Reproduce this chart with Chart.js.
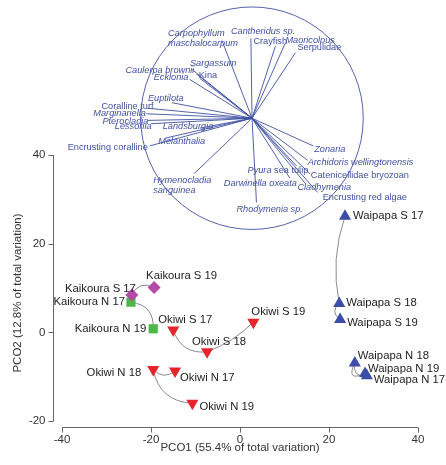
<!DOCTYPE html>
<html>
<head>
<meta charset="utf-8">
<script src="https://cdn.jsdelivr.net/npm/chart.js@4.4.0/dist/chart.umd.min.js"></script>
<style>
html, body { margin: 0; padding: 0; background: #fff; }
</style>
</head>
<body>
<canvas id="chart" width="446" height="465"></canvas>
<script>
// sample scores on the first two PCO axes
const samples = ['Kaikoura S 17', 'Kaikoura S 19', 'Kaikoura N 17', 'Kaikoura N 19',
    'Okiwi S 17', 'Okiwi S 18', 'Okiwi S 19', 'Okiwi N 17', 'Okiwi N 18', 'Okiwi N 19',
    'Waipapa S 17', 'Waipapa S 18', 'Waipapa S 19', 'Waipapa N 17', 'Waipapa N 18', 'Waipapa N 19'];
const pco1 = [-24.3, -19.3, -24.5, -19.5, -15.0, -7.4, 3.0, -14.6, -19.5, -10.7, 23.6, 22.3, 22.5, 28.5, 25.8, 28.1];
const pco2 = [8.4, 10.1, 6.8, 0.8, 0.5, -4.4, 2.3, -8.7, -8.4, -16.0, 26.2, 6.5, 2.9, -9.8, -6.9, -9.3];
const groups = ['Kaikoura S', 'Kaikoura N', 'Okiwi S', 'Okiwi N', 'Waipapa S', 'Waipapa N'];

const xTicks = [-40, -20, 0, 20, 40];
const yTicks = [-20, 0, 20, 40];

// vector overlay (correlations with the two axes)
const vectorNames = ['Carpophyllum\nmaschalocarpum', 'Cantheridus sp.', 'Crayfish', 'Maoricolpus', 'Serpulidae',
    'Sargassum', 'Caulerpa brownii', 'Kina', 'Ecklonia', 'Euptilota', 'Coralline turf', 'Marginariella',
    'Pterocladia', 'Lessonia', 'Landsburgia', 'Melanthalia', 'Encrusting coralline', 'Hymenocladia\nsanguinea',
    'Rhodymenia sp.', 'Zonaria', 'Archidoris wellingtonensis', 'Catenicellidae bryozoan', 'Cladhymenia',
    'Encrusting red algae', 'Pyura sea tulip', 'Darwinella oxeata'];
const vectorX = [-0.27, -0.01, 0.21, 0.30, 0.39, -0.54, -0.50, -0.47, -0.56, -0.72, -0.94, -0.95,
    -0.94, -0.91, -0.47, -0.78, -0.92, -0.52, 0.04, 0.55, 0.50, 0.52, 0.48, 0.59, 0.40, 0.34];
const vectorY = [0.70, 0.72, 0.65, 0.68, 0.59, 0.44, 0.40, 0.36, 0.35, 0.14, 0.09, 0.04,
    -0.02, -0.05, -0.09, -0.18, -0.25, -0.50, -0.76, -0.25, -0.38, -0.50, -0.59, -0.67, -0.43, -0.54];
// 1 italic, 0 upright, 2 first word italic
const vectorItalic = [1, 1, 0, 1, 0, 1, 1, 0, 1, 1, 0, 1, 1, 1, 1, 1, 0, 1, 1, 1, 1, 0, 1, 0, 2, 1];

// styling
const groupColors = ['#b44aa6', '#4cb848', '#e8242b', '#e8242b', '#3d4ca8', '#3d4ca8'];
const groupShapes = ['rectRot', 'rect', 'triangle', 'triangle', 'triangle', 'triangle'];
const groupRotation = [0, 0, 180, 180, 0, 0];
const groupRadius = [6.5, 6.5, 7, 7, 7, 7];
const VEC_COLOR = '#4050a2';
const CIRCLE_CENTER = [2.7, 48.3];
const CIRCLE_R = 25;
// label offsets in px: [dx, dy, align]
const sampleLabelPos = [
    [4, -6, 'right'], [-8, -12, 'left'], [-6, 0, 'right'], [-7, 0, 'right'],
    [-15, -10, 'left'], [-15, -10, 'left'], [-2, -10, 'left'], [5, 7, 'left'], [-12, 3, 'right'], [7, 4, 'left'],
    [8, 0, 'left'], [7, -1, 'left'], [7, 3, 'left'], [7, 4, 'left'], [3, -7, 'left'], [3, -5, 'left']];
const vectorLabelPos = [[-54, -7], [-20, -7], [-22, -5], [0, -2], [2, -5], [-2, -6], [-71, -3], [-1, -3],
    [-36, -2], [-24, -4], [-46, -1.5], [-53, 0], [-45, 1], [-36, 3], [-37, -2], [-7, 3], [-82, 2], [-41, 7],
    [-20, 7], [1, 4], [0, 2], [1, 2], [-8, 4], [5, 5], [-49, 5], [-66, 5]];
// curvature of the gray trajectory segments (px), in drawing order
const trajBend = [6, 8, -8, -3, 5, -10, -6, -5, 6, -10];

const FONT = '"Liberation Sans", Arial, sans-serif';

const datasets = [];
groups.forEach((g, gi) => {
    const pts = [];
    samples.forEach((s, i) => {
        if (s.startsWith(g + ' ')) pts.push({x: pco1[i], y: pco2[i]});
    });
    datasets.push({
        label: g,
        data: pts,
        pointStyle: groupShapes[gi],
        rotation: groupRotation[gi],
        pointRadius: groupRadius[gi],
        backgroundColor: groupColors[gi],
        borderColor: groupColors[gi],
        borderWidth: 0,
        order: 0
    });
});
vectorNames.forEach((name, i) => {
    datasets.push({
        label: name,
        data: [
            {x: CIRCLE_CENTER[0], y: CIRCLE_CENTER[1]},
            {x: CIRCLE_CENTER[0] + CIRCLE_R * vectorX[i], y: CIRCLE_CENTER[1] + CIRCLE_R * vectorY[i]}
        ],
        showLine: true,
        borderColor: VEC_COLOR,
        borderWidth: 0.9,
        pointRadius: 0,
        clip: false,
        order: 1
    });
});

const overlay = {
    id: 'overlay',
    beforeDatasetsDraw(chart) {
        const ctx = chart.ctx;
        const xs = chart.scales.x, ys = chart.scales.y;
        ctx.save();
        // axes, drawn offset from the plot like the original
        ctx.strokeStyle = '#666';
        ctx.lineWidth = 1;
        const axX = 53.5, axY = 427.5;
        ctx.beginPath();
        ctx.moveTo(axX, ys.getPixelForValue(40));
        ctx.lineTo(axX, ys.getPixelForValue(-20));
        yTicks.forEach(t => {
            const py = Math.round(ys.getPixelForValue(t)) + 0.5;
            ctx.moveTo(axX - 5, py);
            ctx.lineTo(axX, py);
        });
        ctx.moveTo(xs.getPixelForValue(-40), axY);
        ctx.lineTo(xs.getPixelForValue(40), axY);
        xTicks.forEach(t => {
            const px = Math.round(xs.getPixelForValue(t)) + 0.5;
            ctx.moveTo(px, axY);
            ctx.lineTo(px, axY + 5);
        });
        ctx.stroke();

        ctx.fillStyle = '#333';
        ctx.font = '11.5px ' + FONT;
        ctx.textAlign = 'right';
        ctx.textBaseline = 'middle';
        yTicks.forEach(t => ctx.fillText(String(t), axX - 8, ys.getPixelForValue(t)));
        ctx.textAlign = 'center';
        xTicks.forEach(t => ctx.fillText(String(t), xs.getPixelForValue(t), axY + 12));
        ctx.fillText('PCO1 (55.4% of total variation)', xs.getPixelForValue(0), 448);
        ctx.save();
        ctx.translate(18, 293);
        ctx.rotate(-Math.PI / 2);
        ctx.fillText('PCO2 (12.8% of total variation)', 0, 0);
        ctx.restore();

        // correlation circle
        const cx = xs.getPixelForValue(CIRCLE_CENTER[0]);
        const cy = ys.getPixelForValue(CIRCLE_CENTER[1]);
        const r = xs.getPixelForValue(CIRCLE_CENTER[0] + CIRCLE_R) - cx;
        ctx.strokeStyle = VEC_COLOR;
        ctx.lineWidth = 0.9;
        ctx.beginPath();
        ctx.arc(cx, cy, r, 0, Math.PI * 2);
        ctx.stroke();

        // trajectories
        ctx.strokeStyle = '#8a8a8a';
        ctx.lineWidth = 1;
        let seg = 0;
        groups.forEach(g => {
            const idx = samples.map((s, i) => s.startsWith(g + ' ') ? i : -1).filter(i => i >= 0);
            for (let k = 0; k < idx.length - 1; k++) {
                const x1 = xs.getPixelForValue(pco1[idx[k]]), y1 = ys.getPixelForValue(pco2[idx[k]]);
                const x2 = xs.getPixelForValue(pco1[idx[k + 1]]), y2 = ys.getPixelForValue(pco2[idx[k + 1]]);
                const dx = x2 - x1, dy = y2 - y1, len = Math.hypot(dx, dy);
                const b = trajBend[seg++] * 2;
                const qx = (x1 + x2) / 2 + dy / len * b;
                const qy = (y1 + y2) / 2 - dx / len * b;
                ctx.beginPath();
                ctx.moveTo(x1, y1);
                ctx.quadraticCurveTo(qx, qy, x2, y2);
                ctx.stroke();
            }
        });
        ctx.restore();
    },
    afterDatasetsDraw(chart) {
        const ctx = chart.ctx;
        const xs = chart.scales.x, ys = chart.scales.y;
        ctx.save();
        ctx.textBaseline = 'middle';

        // vector labels
        ctx.fillStyle = VEC_COLOR;
        vectorNames.forEach((name, i) => {
            const ex = xs.getPixelForValue(CIRCLE_CENTER[0] + CIRCLE_R * vectorX[i]);
            const ey = ys.getPixelForValue(CIRCLE_CENTER[1] + CIRCLE_R * vectorY[i]);
            const lines = name.split('\n');
            lines.forEach((ln, li) => {
                let x = ex + vectorLabelPos[i][0];
                const y = ey + vectorLabelPos[i][1] + li * 10;
                ctx.textAlign = 'left';
                if (vectorItalic[i] === 2) {
                    const sp = ln.indexOf(' ');
                    const first = ln.slice(0, sp), rest = ln.slice(sp);
                    ctx.font = 'italic 9.2px ' + FONT;
                    ctx.fillText(first, x, y);
                    x += ctx.measureText(first).width;
                    ctx.font = '9.2px ' + FONT;
                    ctx.fillText(rest, x, y);
                } else {
                    ctx.font = (vectorItalic[i] ? 'italic ' : '') + '9.2px ' + FONT;
                    ctx.fillText(ln, x, y);
                }
            });
        });

        // sample labels
        ctx.fillStyle = '#222';
        ctx.font = '11.3px ' + FONT;
        samples.forEach((s, i) => {
            const px = xs.getPixelForValue(pco1[i]), py = ys.getPixelForValue(pco2[i]);
            const p = sampleLabelPos[i];
            ctx.textAlign = p[2];
            ctx.fillText(s, px + p[0], py + p[1]);
        });
        ctx.restore();
    }
};

new Chart(document.getElementById('chart'), {
    type: 'scatter',
    data: {datasets: datasets},
    options: {
        responsive: false,
        animation: false,
        layout: {padding: {left: 62, right: 28, top: 155, bottom: 44}},
        scales: {
            x: {type: 'linear', min: -40, max: 40, display: false},
            y: {type: 'linear', min: -20, max: 40, display: false}
        },
        plugins: {legend: {display: false}, tooltip: {enabled: false}}
    },
    plugins: [overlay]
});
</script>
</body>
</html>
